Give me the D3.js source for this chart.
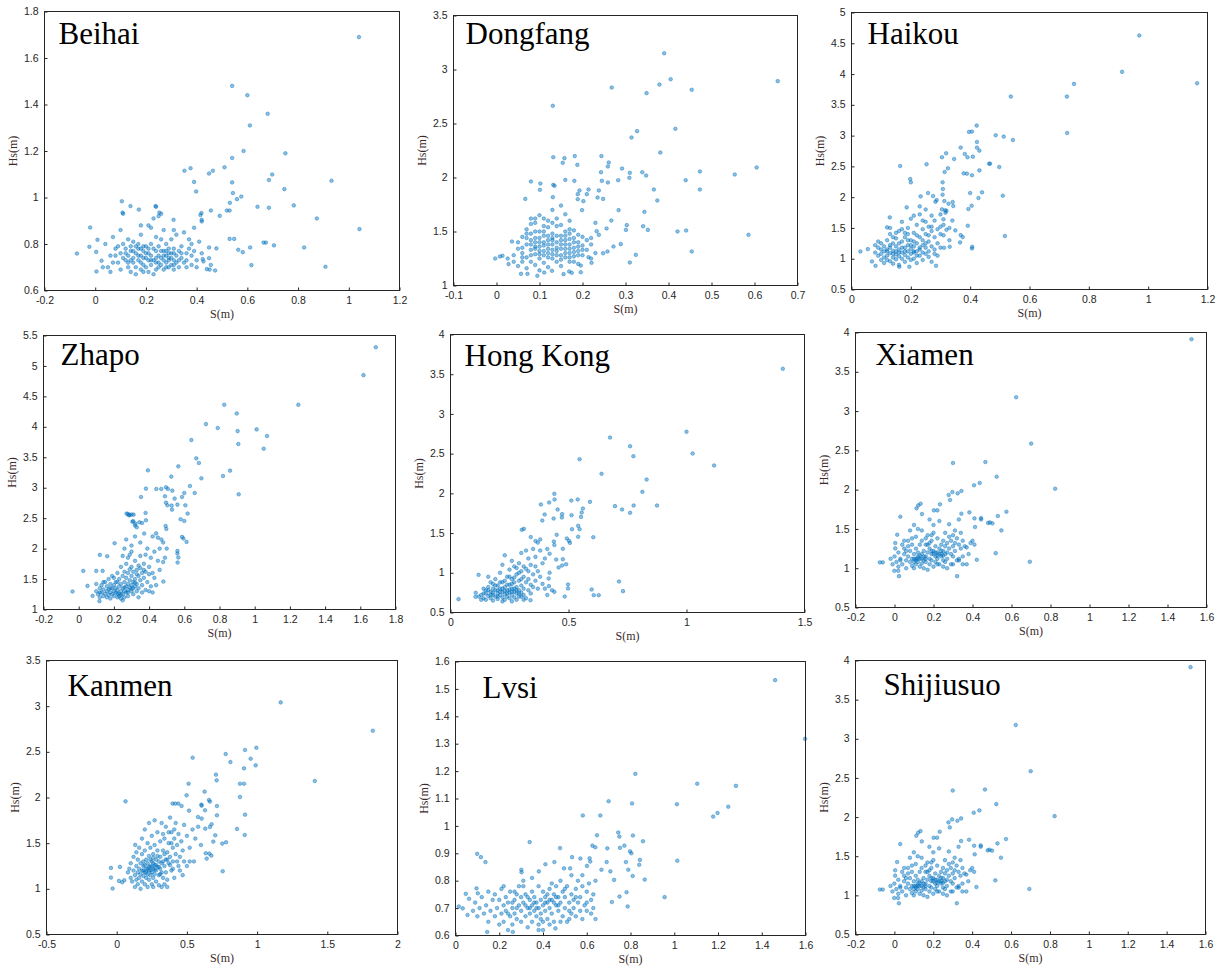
<!DOCTYPE html>
<html>
<head>
<meta charset="utf-8">
<script src="https://cdn.jsdelivr.net/npm/d3@7"></script>
<style>
  body { margin: 0; background: #fff; }
  svg { display: block; }
  .tick text { font-family: "Liberation Sans", Arial, sans-serif; font-size: 10.5px; fill: #262626; }
  .tick line { stroke: #262626; }
</style>
</head>
<body>
<svg id="chart" width="1219" height="968"></svg>
<script>
// ---- data: [S, Hs] pairs ----
const beihai = [
  [1.04,1.69],[0.54,1.48],[0.60,1.44],[0.68,1.36],[0.61,1.31],[0.585,1.20],[0.54,1.17],[0.75,1.19],[0.51,1.13],[0.376,1.126],
  [0.352,1.115],[0.449,1.103],[0.464,1.115],[0.698,1.099],[0.685,1.075],[0.39,1.067],[0.54,1.065],[0.932,1.072],[0.398,1.026],[0.746,1.036],
  [0.543,1.019],[0.576,1.004],[0.559,0.993],[0.531,0.977],[0.105,0.984],[0.64,0.96],[0.685,0.956],[0.783,0.966],[0.139,0.963],[0.238,0.963],
  [0.172,0.948],[0.456,0.944],[0.108,0.935],[0.519,0.944],[0.53,0.944],[0.415,0.925],[0.419,0.933],[0.253,0.935],[0.491,0.921],[0.874,0.91],
  [-0.02,0.871],[1.042,0.864],[0.42,0.897],[0.42,0.904],[0.309,0.904],[0.53,0.822],[0.548,0.822],[0.664,0.806],[0.673,0.806],[0.705,0.794],
  [0.824,0.785],[0.611,0.785],[0.564,0.775],[0.582,0.765],[0.616,0.709],[0.908,0.702],[0.478,0.781],[0.449,0.785],[0.449,0.739],[0.456,0.71],
  [0.44,0.692],[0.451,0.69],[0.473,0.686],[0.424,0.735],[0.427,0.725],[-0.072,0.759],[-0.023,0.788],[0.009,0.818],[0.004,0.766],[0.005,0.682],
  [0.025,0.728],
  [0.04,0.80],[0.05,0.70],[0.06,0.75],[0.07,0.83],[0.07,0.72],[0.08,0.78],[0.09,0.72],[0.10,0.86],[0.10,0.76],[0.10,0.69],
  [0.11,0.74],[0.11,0.80],[0.12,0.73],[0.12,0.78],[0.13,0.70],[0.13,0.75],[0.13,0.82],[0.14,0.68],[0.14,0.77],[0.14,0.79],
  [0.15,0.72],[0.15,0.74],[0.15,0.81],[0.16,0.67],[0.16,0.76],[0.16,0.70],[0.17,0.73],[0.17,0.78],[0.17,0.80],[0.18,0.69],
  [0.18,0.75],[0.18,0.84],[0.18,0.72],[0.19,0.77],[0.19,0.71],[0.19,0.79],[0.20,0.74],[0.20,0.70],[0.20,0.76],[0.21,0.68],
  [0.21,0.78],[0.21,0.73],[0.22,0.87],[0.22,0.75],[0.22,0.80],[0.22,0.71],[0.23,0.73],[0.23,0.91],[0.23,0.67],[0.24,0.77],
  [0.24,0.72],[0.24,0.83],[0.25,0.75],[0.25,0.70],[0.25,0.79],[0.26,0.74],[0.26,0.82],[0.26,0.71],[0.27,0.77],[0.27,0.69],
  [0.27,0.73],[0.28,0.80],[0.28,0.75],[0.28,0.72],[0.29,0.78],[0.29,0.70],[0.29,0.74],[0.30,0.76],[0.30,0.71],[0.30,0.82],
  [0.31,0.73],[0.31,0.78],[0.31,0.69],[0.32,0.75],[0.32,0.84],[0.32,0.72],[0.33,0.77],[0.33,0.70],[0.34,0.74],[0.34,0.79],
  [0.35,0.72],[0.35,0.85],[0.36,0.76],[0.36,0.73],[0.37,0.78],[0.37,0.82],[0.38,0.71],[0.38,0.75],[0.39,0.77],[0.39,0.87],
  [0.40,0.73],[0.40,0.70],[0.41,0.81],[0.42,0.76],[0.12,0.76],[0.14,0.73],[0.16,0.79],[0.19,0.74],[0.21,0.76],[0.23,0.78],
  [0.24,0.74],[0.26,0.77],[0.27,0.75],[0.28,0.77],[0.29,0.73],[0.30,0.74],[0.31,0.76],[0.33,0.73],[0.09,0.79],[0.06,0.68],
  [0.03,0.70],[0.08,0.75],[0.15,0.77],[0.17,0.75],[0.20,0.79],[0.22,0.73],[0.25,0.72],[0.28,0.70],[0.31,0.71],[0.34,0.76],
  [0.36,0.70],[0.38,0.80],[0.24,0.69],[0.19,0.68],[0.13,0.72],[0.18,0.78],[0.29,0.76],[0.26,0.93],[0.25,0.92],[0.27,0.86],
  [0.31,0.86],[0.24,0.96],[0.21,0.88],[0.18,0.88],[0.11,0.93]
];

const dongfang = [
  [0.39,3.15],[0.405,2.91],[0.379,2.861],[0.454,2.812],[0.268,2.833],[0.349,2.781],[0.654,2.892],[0.131,2.664],[0.416,2.451],[0.327,2.429],
  [0.314,2.37],[0.381,2.231],[0.132,2.188],[0.158,2.179],[0.182,2.198],[0.244,2.198],[0.154,2.136],[0.261,2.139],[0.259,2.102],[0.188,2.117],
  [0.292,2.083],[0.605,2.093],[0.473,2.056],[0.243,2.049],[0.31,2.043],[0.339,2.049],[0.348,2.018],[0.554,2.028],[0.44,1.975],[0.309,1.997],
  [0.08,1.963],[0.102,1.944],[0.132,1.932],[0.135,1.923],[0.16,1.978],[0.181,1.969],[0.245,1.969],[0.283,1.975],[0.259,1.954],[0.101,1.886],
  [0.193,1.88],[0.214,1.889],[0.238,1.88],[0.366,1.889],[0.473,1.889],[0.189,1.846],[0.21,1.846],[0.067,1.802],[0.131,1.818],[0.189,1.799],
  [0.235,1.815],[0.248,1.802],[0.374,1.787],[0.202,1.781],[0.199,1.698],[0.284,1.698],[0.344,1.682],[0.267,1.602],[0.303,1.559],[0.301,1.515],
  [0.341,1.549],[0.352,1.515],[0.421,1.50],[0.441,1.509],[0.256,1.528],[0.233,1.503],[0.586,1.469],[0.238,1.469],[0.289,1.383],[0.272,1.361],
  [0.258,1.315],[0.248,1.299],[0.454,1.315],[0.324,1.284],[0.31,1.213],[0.221,1.21],[0.214,1.262],[0.196,1.185],[0.196,1.123],[-0.003,1.25],
  [0.008,1.269],[0.014,1.275],[0.026,1.25],[0.028,1.198],[0.036,1.407],[0.095,1.09],[0.057,1.108],[0.072,1.108],[0.156,1.105],[0.169,1.13],
  [0.175,1.117],[0.111,1.12],[0.129,1.136],
  [0.04,1.28],[0.05,1.34],[0.05,1.18],[0.06,1.45],[0.06,1.30],[0.06,1.22],[0.07,1.38],[0.07,1.52],[0.07,1.26],[0.07,1.16],
  [0.08,1.42],[0.08,1.33],[0.08,1.48],[0.08,1.22],[0.08,1.57],[0.09,1.36],[0.09,1.29],[0.09,1.44],[0.09,1.62],[0.09,1.19],
  [0.10,1.40],[0.10,1.32],[0.10,1.25],[0.10,1.50],[0.10,1.65],[0.10,1.14],[0.11,1.37],[0.11,1.28],[0.11,1.46],[0.11,1.55],
  [0.11,1.21],[0.12,1.34],[0.12,1.42],[0.12,1.30],[0.12,1.60],[0.12,1.17],[0.13,1.38],[0.13,1.25],[0.13,1.48],[0.13,1.70],
  [0.13,1.44],[0.14,1.32],[0.14,1.40],[0.14,1.22],[0.14,1.55],[0.14,1.35],[0.15,1.28],[0.15,1.46],[0.15,1.38],[0.15,1.74],
  [0.15,1.18],[0.16,1.34],[0.16,1.50],[0.16,1.26],[0.16,1.42],[0.16,1.66],[0.17,1.30],[0.17,1.38],[0.17,1.22],[0.17,1.48],
  [0.17,1.60],[0.18,1.35],[0.18,1.44],[0.18,1.27],[0.18,1.51],[0.19,1.40],[0.19,1.32],[0.19,1.20],[0.20,1.45],[0.20,1.37],
  [0.20,1.28],[0.21,1.42],[0.21,1.33],[0.22,1.44],[0.22,1.38],[0.23,1.30],[0.23,1.58],[0.06,1.35],[0.07,1.44],[0.08,1.28],
  [0.09,1.50],[0.09,1.40],[0.10,1.36],[0.10,1.44],[0.11,1.32],[0.11,1.40],[0.12,1.38],[0.12,1.26],[0.13,1.33],[0.13,1.42],
  [0.14,1.28],[0.14,1.46],[0.15,1.34],[0.15,1.42],[0.16,1.30],[0.16,1.38],[0.17,1.43],[0.17,1.34],[0.18,1.40],[0.18,1.31],
  [0.19,1.36],[0.19,1.47],[0.05,1.40],[0.04,1.22],[0.06,1.26],[0.08,1.38],[0.09,1.34],[0.10,1.29],[0.11,1.50],[0.12,1.46],
  [0.13,1.29],[0.14,1.62],[0.15,1.24],[0.16,1.46],[0.17,1.26],[0.18,1.22],[0.19,1.28],[0.20,1.33],[0.22,1.25],[0.11,1.62],
  [0.12,1.54],[0.08,1.62],[0.09,1.58],[0.07,1.48],[0.13,1.58],[0.15,1.56],[0.17,1.52]
];

const haikou = [
  [0.97,4.627],[0.912,4.036],[0.75,3.84],[1.165,3.851],[0.537,3.634],[0.726,3.634],[0.727,3.043],[0.422,3.163],[0.406,3.065],[0.396,3.06],
  [0.486,3.005],[0.513,2.984],[0.544,2.929],[0.423,2.897],[0.423,2.805],[0.431,2.756],[0.368,2.805],[0.319,2.713],[0.305,2.648],[0.382,2.702],
  [0.391,2.648],[0.409,2.658],[0.346,2.62],[0.467,2.544],[0.464,2.544],[0.498,2.49],[0.253,2.534],[0.164,2.506],[0.431,2.435],[0.314,2.409],
  [0.325,2.469],[0.378,2.387],[0.389,2.382],[0.406,2.355],[0.198,2.295],[0.20,2.241],[0.307,2.241],[0.308,2.132],[0.40,2.067],[0.44,2.078],
  [0.258,2.067],[0.275,2.018],[0.233,2.013],[0.51,2.024],[0.428,1.986],[0.307,2.04],[0.287,1.953],[0.283,1.926],[0.313,1.937],[0.341,1.921],
  [0.327,1.894],[0.343,1.856],[0.405,1.861],[0.186,1.834],[0.394,1.807],[0.305,1.802],[0.316,1.785],[0.317,1.747],[0.392,1.536],[0.517,1.368],
  [0.368,1.384],[0.375,1.351],[0.366,1.265],[0.407,1.194],[0.406,1.167],[0.331,1.194],[0.312,1.178],[0.03,1.118],[0.055,1.156],[0.129,1.671],
  [0.12,1.509],[0.069,0.956],[0.081,0.885],[0.161,0.869],[0.195,0.869],[0.285,0.885],
  [0.08,1.10],[0.08,1.22],[0.09,1.05],[0.09,1.28],[0.10,0.98],[0.10,1.15],[0.10,1.08],[0.11,1.20],[0.11,1.02],[0.11,0.93],
  [0.12,1.12],[0.12,1.30],[0.12,1.05],[0.13,0.96],[0.13,1.18],[0.13,1.09],[0.13,1.40],[0.14,1.02],[0.14,1.25],[0.14,1.13],
  [0.14,0.92],[0.15,1.07],[0.15,1.33],[0.15,1.20],[0.15,0.99],[0.16,1.15],[0.16,1.04],[0.16,1.45],[0.16,0.90],[0.17,1.10],
  [0.17,1.28],[0.17,1.00],[0.17,1.60],[0.18,1.18],[0.18,1.06],[0.18,1.35],[0.18,0.95],[0.19,1.12],[0.19,1.22],[0.19,1.02],
  [0.19,1.50],[0.20,1.16],[0.20,1.08],[0.20,1.30],[0.20,1.65],[0.21,1.20],[0.21,1.00],[0.21,1.42],[0.21,1.12],[0.22,1.25],
  [0.22,1.05],[0.22,1.55],[0.22,0.93],[0.23,1.15],[0.23,1.35],[0.23,1.72],[0.24,1.10],[0.24,1.22],[0.24,1.48],[0.24,0.98],
  [0.25,1.18],[0.25,1.40],[0.25,1.60],[0.26,1.12],[0.26,1.28],[0.26,1.03],[0.27,1.20],[0.27,1.45],[0.27,1.52],[0.28,1.15],
  [0.28,1.35],[0.28,1.08],[0.29,1.48],[0.29,1.25],[0.30,1.40],[0.30,1.18],[0.31,1.55],[0.31,1.64],[0.32,1.47],[0.33,1.50],
  [0.34,1.62],[0.35,1.46],[0.12,1.15],[0.13,1.22],[0.14,1.08],[0.15,1.12],[0.16,1.25],[0.17,1.18],[0.18,1.12],[0.19,1.30],
  [0.20,1.22],[0.21,1.28],[0.22,1.12],[0.23,1.05],[0.24,1.30],[0.25,1.08],[0.26,1.38],[0.11,1.12],[0.10,1.25],[0.09,1.18],
  [0.12,0.98],[0.14,1.35],[0.16,1.10],[0.18,1.42],[0.20,0.98],[0.22,1.38],[0.24,1.62],[0.26,1.52],[0.28,1.62],[0.30,1.72],
  [0.32,1.78],[0.23,1.85],[0.25,1.80],[0.21,1.70],[0.27,1.70],[0.30,1.52],[0.33,1.30],[0.31,1.38],[0.29,1.05],[0.27,0.95],
  [0.13,1.50],[0.15,1.42],[0.19,1.40],[0.17,1.48],[0.23,1.18],[0.21,1.10],[0.25,1.25]
];

const zhapo = [
  [1.688,5.308],[1.618,4.849],[1.248,4.362],[0.827,4.362],[0.898,4.22],[0.723,4.045],[0.79,3.98],[0.903,3.93],[1.011,3.958],[1.07,3.849],
  [0.64,3.783],[0.907,3.717],[1.051,3.641],[0.668,3.482],[0.683,3.406],[0.566,3.351],[0.393,3.285],[0.86,3.28],[0.82,3.192],[0.526,3.182],
  [0.697,3.154],[0.909,2.892],[0.632,3.028],[0.496,3.007],[0.507,2.98],[0.441,2.98],[0.469,2.98],[0.382,2.985],[0.532,2.952],[0.60,2.914],
  [0.659,2.914],[0.49,2.859],[0.545,2.821],[0.587,2.848],[0.354,2.848],[0.496,2.755],[0.504,2.711],[0.528,2.706],[0.561,2.722],[0.53,2.64],
  [0.606,2.711],[0.619,2.575],[0.579,2.482],[0.60,2.454],[0.382,2.465],[0.38,2.586],[0.272,2.575],[0.285,2.548],[0.312,2.558],[0.305,2.443],
  [0.322,2.41],[0.345,2.432],[0.494,2.372],[0.498,2.323],[0.587,2.192],[0.595,2.165],[0.613,2.11],[0.561,1.962],[0.561,1.919],[0.566,1.853],
  [0.562,1.771],[0.481,1.459],[0.204,2.088],[0.12,1.897],[0.162,1.875],[0.372,2.247],[-0.035,1.295],[0.026,1.634],[0.10,1.634],[0.136,1.634],
  [0.05,1.388],[0.079,1.224],[0.118,1.137],
  [0.10,1.30],[0.10,1.42],[0.11,1.25],[0.12,1.35],[0.12,1.20],[0.13,1.28],[0.13,1.40],[0.14,1.22],[0.14,1.33],[0.15,1.26],
  [0.15,1.45],[0.16,1.30],[0.16,1.20],[0.16,1.38],[0.17,1.24],[0.17,1.50],[0.17,1.33],[0.18,1.28],[0.18,1.42],[0.18,1.18],
  [0.19,1.35],[0.19,1.25],[0.19,1.55],[0.20,1.30],[0.20,1.40],[0.20,1.22],[0.21,1.28],[0.21,1.45],[0.21,1.35],[0.22,1.20],
  [0.22,1.32],[0.22,1.60],[0.23,1.26],[0.23,1.38],[0.23,1.50],[0.24,1.30],[0.24,1.18],[0.24,1.42],[0.24,1.70],[0.25,1.35],
  [0.25,1.25],[0.25,1.55],[0.26,1.30],[0.26,1.45],[0.26,1.62],[0.26,1.20],[0.27,1.38],[0.27,1.28],[0.27,1.52],[0.27,1.75],
  [0.28,1.32],[0.28,1.60],[0.28,1.42],[0.28,1.22],[0.29,1.36],[0.29,1.66],[0.29,1.48],[0.29,1.90],[0.30,1.30],[0.30,1.55],
  [0.30,1.40],[0.30,1.70],[0.30,2.05],[0.31,1.35],[0.31,1.62],[0.31,1.45],[0.31,1.25],[0.32,1.50],[0.32,1.38],[0.32,1.80],
  [0.32,2.20],[0.33,1.42],[0.33,1.65],[0.33,1.30],[0.34,1.55],[0.34,1.72],[0.34,1.35],[0.35,1.48],[0.35,1.88],[0.35,2.10],
  [0.36,1.60],[0.36,1.40],[0.37,1.75],[0.37,1.52],[0.38,1.90],[0.38,1.62],[0.39,1.45],[0.39,2.00],[0.40,1.70],[0.40,1.58],
  [0.41,1.38],[0.41,1.85],[0.42,2.20],[0.42,1.60],[0.43,1.95],[0.43,1.52],[0.44,2.25],[0.44,1.40],[0.45,1.80],[0.46,2.00],
  [0.46,1.65],[0.47,2.15],[0.48,2.10],[0.49,1.85],[0.50,2.00],[0.48,1.78],[0.45,2.18],[0.30,1.95],[0.28,1.85],[0.26,2.00],
  [0.25,1.88],[0.27,2.15],[0.29,2.55],[0.31,2.45],[0.32,2.38],[0.33,2.35],[0.36,2.42],[0.30,2.56],[0.28,2.57],[0.22,1.45],
  [0.20,1.52],[0.18,1.35],[0.14,1.45],[0.12,1.28],[0.23,1.22],[0.25,1.15],[0.34,1.20],[0.36,1.28],[0.38,1.32],[0.40,1.30],
  [0.42,1.28],[0.37,1.65],[0.33,1.58],[0.35,1.68],[0.26,1.36],[0.28,1.28],[0.30,1.34],[0.22,1.26],[0.24,1.24],[0.32,1.44]
];

const hongkong = [
  [1.408,3.568],[1.0,2.775],[1.026,2.502],[1.117,2.351],[0.676,2.703],[0.761,2.594],[0.775,2.468],[0.547,2.43],[0.64,2.246],[0.831,2.174],
  [0.813,2.019],[0.875,1.847],[0.776,1.847],[0.697,1.839],[0.727,1.797],[0.761,1.755],[0.591,1.893],[0.605,1.448],[0.714,0.89],[0.731,0.769],
  [0.598,0.79],[0.607,0.718],[0.628,0.718],[0.44,1.994],[0.441,1.923],[0.418,1.885],[0.383,1.86],[0.399,1.734],[0.389,1.658],[0.512,1.91],
  [0.539,1.923],[0.437,1.683],[0.454,1.797],[0.473,1.738],[0.472,1.696],[0.513,1.725],[0.556,1.759],[0.561,1.809],[0.553,1.704],[0.541,1.591],
  [0.547,1.549],[0.515,1.549],[0.311,1.553],[0.302,1.541],[0.541,1.453],[0.45,1.478],[0.493,1.432],[0.502,1.402],[0.506,1.377],[0.438,1.394],
  [0.476,1.302],[0.49,1.108],[0.458,1.067],[0.448,1.167],[0.476,1.171],[0.473,1.092],[0.498,0.853],[0.498,0.802],[0.484,0.701],[0.034,0.668],
  [0.119,0.974],[0.107,0.748],[0.106,0.697],[0.339,0.655],[0.416,0.928],[0.417,0.832],
  [0.12,0.70],[0.13,0.72],[0.14,0.68],[0.14,0.80],[0.15,0.74],[0.15,0.66],[0.16,0.82],[0.16,0.71],[0.16,0.95],[0.17,0.76],
  [0.17,0.68],[0.17,0.88],[0.18,0.72],[0.18,0.80],[0.18,0.65],[0.19,0.78],[0.19,0.70],[0.19,0.92],[0.20,0.74],[0.20,0.84],
  [0.20,0.67],[0.21,0.80],[0.21,0.72],[0.21,1.00],[0.22,0.76],[0.22,0.69],[0.22,0.88],[0.22,1.10],[0.23,0.73],[0.23,0.82],
  [0.23,0.66],[0.23,1.22],[0.24,0.78],[0.24,0.70],[0.24,0.95],[0.25,0.75],[0.25,0.85],[0.25,0.68],[0.25,1.04],[0.26,0.72],
  [0.26,0.80],[0.26,0.92],[0.26,1.15],[0.27,0.76],[0.27,0.69],[0.27,0.88],[0.27,1.08],[0.28,0.74],[0.28,0.82],[0.28,0.98],
  [0.28,0.66],[0.29,0.78],[0.29,0.90],[0.29,1.12],[0.29,0.70],[0.30,0.84],[0.30,0.75],[0.30,1.02],[0.30,1.25],[0.31,0.80],
  [0.31,0.95],[0.31,0.72],[0.32,0.88],[0.32,1.05],[0.32,1.28],[0.33,0.78],[0.33,0.92],[0.33,1.18],[0.34,0.85],[0.34,1.10],
  [0.34,0.74],[0.35,0.98],[0.35,1.30],[0.35,0.82],[0.36,0.90],[0.36,1.20],[0.37,1.02],[0.37,0.80],[0.38,1.28],[0.38,0.95],
  [0.38,1.42],[0.39,0.86],[0.39,1.12],[0.40,0.80],[0.40,1.18],[0.41,1.30],[0.41,0.72],[0.42,1.00],[0.42,1.24],[0.43,0.78],
  [0.44,1.35],[0.44,0.76],[0.20,0.78],[0.21,0.76],[0.22,0.80],[0.23,0.77],[0.24,0.74],[0.25,0.79],[0.26,0.76],[0.27,0.80],
  [0.28,0.78],[0.29,0.74],[0.30,0.70],[0.24,0.85],[0.26,0.86],[0.19,0.84],[0.18,0.75],[0.17,0.72],[0.15,0.78],[0.14,0.74],
  [0.13,0.66],[0.21,0.88],[0.23,0.90],[0.27,0.94],[0.29,1.00],[0.31,1.08],[0.33,1.02],[0.36,1.08],[0.37,1.38],[0.34,1.45],
  [0.36,1.40],[0.32,0.68],[0.31,0.66],[0.26,0.64],[0.22,0.64],[0.20,0.70],[0.18,0.86],[0.16,0.78],[0.25,0.95],[0.28,1.06],
  [0.30,0.92]
];

const xiamen = [
  [1.523,3.915],[0.624,3.176],[0.701,2.586],[0.30,2.339],[0.466,2.352],[0.524,2.165],[0.824,2.012],[0.408,2.055],[0.437,2.085],[0.297,1.97],
  [0.343,1.983],[0.278,1.932],[0.324,1.953],[0.285,1.868],[0.233,1.813],[0.134,1.821],[0.122,1.80],[0.113,1.762],[0.141,1.689],[0.202,1.736],
  [0.22,1.736],[0.03,1.655],[0.53,1.664],[0.574,1.719],[0.384,1.711],[0.343,1.694],[0.444,1.638],[0.444,1.621],[0.41,1.634],[0.489,1.583],
  [0.502,1.571],[0.548,1.481],[0.413,1.524],[0.48,1.575],[0.519,1.192],[0.694,1.082],[0.321,0.899],[0.023,0.899],[0.014,1.426],[-0.075,1.074],
  [-0.06,1.074],[0.004,1.32],[0.004,1.252],[-0.001,0.967],[0.019,0.967],[0.422,1.107],[0.37,1.265],[0.331,1.099],
  [-0.02,1.12],[-0.01,1.05],[0.00,1.15],[0.01,1.08],[0.02,1.20],[0.02,1.02],[0.03,1.12],[0.04,1.30],[0.04,1.05],[0.05,1.18],
  [0.05,1.25],[0.06,1.10],[0.06,1.00],[0.07,1.15],[0.07,1.35],[0.08,1.08],[0.08,1.22],[0.08,1.48],[0.09,1.12],[0.09,1.03],
  [0.09,1.30],[0.10,1.18],[0.10,1.08],[0.10,1.55],[0.10,1.00],[0.11,1.25],[0.11,1.12],[0.11,1.05],[0.11,1.40],[0.12,1.15],
  [0.12,1.08],[0.12,1.20],[0.13,1.02],[0.13,1.12],[0.13,1.30],[0.14,1.18],[0.14,1.06],[0.14,1.35],[0.15,1.10],[0.15,1.22],
  [0.15,1.00],[0.16,1.15],[0.16,1.30],[0.16,1.08],[0.17,1.42],[0.17,1.20],[0.17,0.98],[0.18,1.12],[0.18,1.25],[0.18,1.05],
  [0.18,1.62],[0.19,1.18],[0.19,1.35],[0.19,1.10],[0.20,1.22],[0.20,1.02],[0.20,1.45],[0.20,1.55],[0.21,1.15],[0.21,1.28],
  [0.21,1.08],[0.22,1.20],[0.22,1.38],[0.22,1.12],[0.23,1.25],[0.23,1.05],[0.23,1.60],[0.24,1.18],[0.24,1.30],[0.24,1.15],
  [0.25,1.10],[0.25,1.35],[0.25,1.22],[0.26,1.28],[0.26,1.08],[0.26,1.45],[0.27,1.20],[0.27,1.32],[0.27,1.12],[0.28,1.40],
  [0.28,1.25],[0.28,1.56],[0.29,1.18],[0.29,1.35],[0.29,1.05],[0.30,1.28],[0.30,1.42],[0.30,1.15],[0.31,1.32],[0.31,1.22],
  [0.31,1.48],[0.32,1.38],[0.32,1.10],[0.33,1.30],[0.33,1.62],[0.34,1.25],[0.34,1.45],[0.35,1.35],[0.35,1.15],[0.36,1.28],
  [0.37,1.05],[0.38,1.18],[0.39,1.32],[0.40,1.35],[0.41,1.30],[0.12,1.12],[0.13,1.16],[0.14,1.12],[0.15,1.15],[0.16,1.12],
  [0.19,1.22],[0.20,1.18],[0.21,1.20],[0.22,1.16],[0.23,1.18],[0.24,1.22],[0.25,1.16],[0.26,1.18],[0.10,1.12],[0.11,1.10],
  [0.17,1.30],[0.18,1.32],[0.05,1.35],[0.09,1.38],[0.12,1.50],[0.14,1.48],[0.07,1.28],[0.06,1.22],[0.03,1.10],[0.16,1.38],
  [0.19,1.42],[0.22,1.05],[0.25,1.02],[0.27,1.00],[0.30,1.05],[0.33,1.12],[0.35,1.05]
];

const kanmen = [
  [1.168,3.041],[1.824,2.731],[1.411,2.181],[0.995,2.545],[0.914,2.52],[0.776,2.476],[0.954,2.425],[0.541,2.436],[0.81,2.388],[0.99,2.352],
  [0.907,2.319],[0.707,2.25],[0.712,2.188],[0.512,2.151],[0.878,2.151],[0.907,2.151],[0.626,2.064],[0.498,2.024],[0.878,2.006],[0.063,1.958],
  [0.603,1.922],[0.664,1.955],[0.657,1.973],[0.398,1.933],[0.417,1.933],[0.439,1.933],[0.462,1.907],[0.605,1.911],[0.714,1.907],[0.629,1.86],
  [0.914,1.812],[0.714,1.805],[0.515,1.856],[0.579,1.787],[0.605,1.769],[0.664,1.678],[0.857,1.656],[0.631,1.659],[0.676,1.707],[0.912,1.59],
  [0.702,1.586],[0.779,1.51],[0.752,1.495],[0.688,1.517],[0.634,1.39],[0.66,1.386],[0.674,1.364],[0.641,1.331],[0.755,1.193],[-0.041,1.229],
  [-0.041,1.123],[-0.029,1.003],[0.023,1.24],[0.016,1.087],[0.039,1.072],[0.054,1.094],[0.132,1.481],
  [0.08,1.18],[0.09,1.22],[0.10,1.12],[0.10,1.28],[0.11,1.08],[0.12,1.20],[0.12,1.35],[0.13,1.15],[0.13,1.02],[0.14,1.25],
  [0.14,1.10],[0.14,1.40],[0.15,1.18],[0.15,1.05],[0.15,1.32],[0.16,1.22],[0.16,1.12],[0.16,1.45],[0.17,1.00],[0.17,1.28],
  [0.17,1.16],[0.18,1.20],[0.18,1.08],[0.18,1.38],[0.18,1.55],[0.19,1.14],[0.19,1.25],[0.19,1.30],[0.20,1.18],[0.20,1.05],
  [0.20,1.42],[0.20,1.65],[0.21,1.22],[0.21,1.12],[0.21,1.32],[0.22,1.16],[0.22,1.28],[0.22,1.02],[0.22,1.50],[0.23,1.20],
  [0.23,1.10],[0.23,1.36],[0.23,1.72],[0.24,1.25],[0.24,1.15],[0.24,1.45],[0.25,1.18],[0.25,1.30],[0.25,1.05],[0.25,1.58],
  [0.26,1.22],[0.26,1.12],[0.26,1.38],[0.27,1.26],[0.27,1.16],[0.27,1.48],[0.27,1.75],[0.28,1.20],[0.28,1.32],[0.28,1.08],
  [0.29,1.24],[0.29,1.42],[0.29,1.62],[0.30,1.15],[0.30,1.30],[0.30,1.04],[0.31,1.22],[0.31,1.52],[0.31,1.35],[0.32,1.18],
  [0.32,1.28],[0.32,1.72],[0.33,1.12],[0.33,1.42],[0.33,1.60],[0.34,1.25],[0.34,1.05],[0.34,1.55],[0.35,1.32],[0.35,1.18],
  [0.35,1.68],[0.36,1.40],[0.36,1.10],[0.37,1.28],[0.37,1.50],[0.38,1.35],[0.38,1.78],[0.39,1.20],[0.39,1.62],[0.40,1.45],
  [0.40,1.30],[0.41,1.55],[0.41,1.12],[0.42,1.38],[0.42,1.72],[0.43,1.48],[0.44,1.25],[0.44,1.60],[0.45,1.35],[0.46,1.52],
  [0.47,1.42],[0.48,1.70],[0.48,1.30],[0.50,1.58],[0.50,1.25],[0.52,1.45],[0.52,1.30],[0.54,1.65],[0.55,1.30],[0.56,1.55],
  [0.58,1.68],[0.60,1.48],[0.22,1.22],[0.23,1.24],[0.24,1.20],[0.25,1.24],[0.26,1.28],[0.21,1.18],[0.20,1.26],[0.19,1.20],
  [0.27,1.21],[0.28,1.26],[0.24,1.32],[0.26,1.34],[0.30,1.24],[0.31,1.16],[0.33,1.30],[0.36,1.32],[0.38,1.26],[0.40,1.22],
  [0.43,1.30],[0.45,1.20],[0.47,1.15],[0.36,1.02],[0.32,1.02],[0.26,1.02],[0.29,1.36],[0.34,1.38],[0.37,1.62],[0.41,1.65],
  [0.39,1.50]
];

const lvsi = [
  [1.461,1.532],[1.598,1.318],[0.822,1.19],[1.105,1.154],[1.282,1.146],[0.70,1.09],[0.807,1.082],[1.012,1.079],[1.247,1.07],[1.198,1.047],
  [1.178,1.034],[0.582,1.038],[0.662,1.038],[1.014,0.873],[0.956,0.74],[0.787,0.706],[0.865,0.804],[0.843,0.876],[0.857,0.944],[0.811,0.965],
  [0.744,0.976],[0.749,0.961],[0.772,0.928],[0.752,0.92],[0.798,0.907],[0.804,0.90],[0.779,0.868],[0.84,0.858],[0.79,0.84],[0.81,0.817],
  [0.782,0.758],[0.75,0.742],[0.715,0.722],[0.647,0.966],[0.626,0.928],[0.639,0.922],[0.694,0.918],[0.691,0.868],[0.708,0.834],[0.725,0.803],
  [0.667,0.84],[0.339,0.941],[0.478,0.919],[0.533,0.886],[0.571,0.881],[0.613,0.882],[0.616,0.87],[0.601,0.854],[0.099,0.898],[0.116,0.886],
  [0.137,0.868],[0.411,0.86],[0.452,0.868],[0.301,0.84],[0.302,0.831],[0.381,0.834],[0.496,0.845],[0.524,0.845],[0.015,0.706],[0.047,0.752],
  [0.062,0.734],[0.033,0.699],[0.055,0.675],[0.145,0.613],[0.262,0.613],[0.457,0.626],[0.102,0.754],[0.096,0.772],
  [0.08,0.69],[0.09,0.72],[0.10,0.67],[0.11,0.70],[0.12,0.74],[0.13,0.68],[0.14,0.71],[0.15,0.65],[0.15,0.76],[0.16,0.69],
  [0.17,0.73],[0.18,0.67],[0.18,0.75],[0.19,0.70],[0.20,0.64],[0.20,0.73],[0.21,0.77],[0.21,0.68],[0.22,0.71],[0.22,0.65],
  [0.23,0.74],[0.23,0.69],[0.24,0.62],[0.24,0.72],[0.25,0.67],[0.25,0.76],[0.26,0.70],[0.26,0.64],[0.27,0.73],[0.27,0.68],
  [0.28,0.75],[0.28,0.66],[0.29,0.71],[0.29,0.78],[0.30,0.69],[0.30,0.74],[0.30,0.65],[0.31,0.72],[0.31,0.80],[0.32,0.67],
  [0.32,0.75],[0.33,0.70],[0.33,0.63],[0.34,0.73],[0.34,0.68],[0.35,0.76],[0.35,0.71],[0.35,0.65],[0.36,0.69],[0.36,0.74],
  [0.37,0.72],[0.37,0.67],[0.38,0.70],[0.38,0.78],[0.38,0.64],[0.39,0.73],[0.39,0.68],[0.40,0.71],[0.40,0.62],[0.40,0.76],
  [0.41,0.69],[0.41,0.74],[0.42,0.66],[0.42,0.72],[0.43,0.77],[0.43,0.70],[0.44,0.73],[0.44,0.68],[0.45,0.75],[0.45,0.65],
  [0.46,0.71],[0.46,0.78],[0.47,0.69],[0.47,0.74],[0.48,0.72],[0.48,0.80],[0.49,0.67],[0.49,0.76],[0.50,0.70],[0.50,0.74],
  [0.51,0.65],[0.51,0.78],[0.52,0.72],[0.52,0.69],[0.53,0.75],[0.53,0.82],[0.54,0.70],[0.54,0.73],[0.55,0.67],[0.55,0.77],
  [0.56,0.72],[0.56,0.80],[0.57,0.69],[0.57,0.74],[0.58,0.78],[0.58,0.82],[0.59,0.71],[0.60,0.76],[0.60,0.69],[0.61,0.79],
  [0.62,0.73],[0.62,0.68],[0.63,0.75],[0.63,0.70],[0.64,0.66],[0.64,0.80],[0.32,0.71],[0.34,0.70],[0.36,0.72],[0.37,0.70],
  [0.39,0.66],[0.41,0.72],[0.43,0.73],[0.45,0.72],[0.47,0.71],[0.28,0.70],[0.26,0.72],[0.24,0.68],[0.33,0.74],[0.42,0.75],
  [0.46,0.74],[0.50,0.77],[0.55,0.74],[0.53,0.68],[0.22,0.78],[0.27,0.76],[0.31,0.78],[0.35,0.81],[0.44,0.79],[0.48,0.65],
  [0.52,0.66],[0.58,0.66],[0.60,0.72],[0.38,0.62],[0.40,0.65],[0.43,0.64]
];

// the Shijiusuo panel in the source shows the very same scatter as Xiamen
const shijiusuo = xiamen;

// ---- tick labels ----
const ticksBeihaiX = [-0.2, 0, 0.2, 0.4, 0.6, 0.8, 1, 1.2];
const ticksBeihaiY = [0.6, 0.8, 1, 1.2, 1.4, 1.6, 1.8];
const ticksDongfangX = [-0.1, 0, 0.1, 0.2, 0.3, 0.4, 0.5, 0.6, 0.7];
const ticksDongfangY = [1, 1.5, 2, 2.5, 3, 3.5];
const ticksHaikouX = [0, 0.2, 0.4, 0.6, 0.8, 1, 1.2];
const ticksHaikouY = [0.5, 1, 1.5, 2, 2.5, 3, 3.5, 4, 4.5, 5];
const ticksZhapoX = [-0.2, 0, 0.2, 0.4, 0.6, 0.8, 1, 1.2, 1.4, 1.6, 1.8];
const ticksZhapoY = [1, 1.5, 2, 2.5, 3, 3.5, 4, 4.5, 5, 5.5];
const ticksHongKongX = [0, 0.5, 1, 1.5];
const ticksHongKongY = [0.5, 1, 1.5, 2, 2.5, 3, 3.5, 4];
const ticksXiamenX = [-0.2, 0, 0.2, 0.4, 0.6, 0.8, 1, 1.2, 1.4, 1.6];
const ticksXiamenY = [0.5, 1, 1.5, 2, 2.5, 3, 3.5, 4];
const ticksKanmenX = [-0.5, 0, 0.5, 1, 1.5, 2];
const ticksKanmenY = [0.5, 1, 1.5, 2, 2.5, 3, 3.5];
const ticksLvsiX = [0, 0.2, 0.4, 0.6, 0.8, 1, 1.2, 1.4, 1.6];
const ticksLvsiY = [0.6, 0.7, 0.8, 0.9, 1, 1.1, 1.2, 1.3, 1.4, 1.5, 1.6];

// ---- layout: plot box [left, top, right, bottom] and title offset ----
const panels = [
  { name: "Beihai",    pts: beihai,    xt: ticksBeihaiX,   yt: ticksBeihaiY,   box: [44.5, 11.5, 399.5, 290.5], title: [14, 32] },
  { name: "Dongfang",  pts: dongfang,  xt: ticksDongfangX, yt: ticksDongfangY, box: [453.5, 15.5, 797.5, 285.5], title: [12, 28] },
  { name: "Haikou",    pts: haikou,    xt: ticksHaikouX,   yt: ticksHaikouY,   box: [851.5, 12.5, 1207.5, 289.5], title: [16, 31] },
  { name: "Zhapo",     pts: zhapo,     xt: ticksZhapoX,    yt: ticksZhapoY,    box: [43.5, 335.5, 395.5, 609.5], title: [17, 29] },
  { name: "Hong Kong", pts: hongkong,  xt: ticksHongKongX, yt: ticksHongKongY, box: [450.5, 334.5, 804.5, 612.5], title: [14, 31] },
  { name: "Xiamen",    pts: xiamen,    xt: ticksXiamenX,   yt: ticksXiamenY,   box: [855.5, 332.5, 1206.5, 607.5], title: [20, 32] },
  { name: "Kanmen",    pts: kanmen,    xt: ticksKanmenX,   yt: ticksKanmenY,   box: [46.5, 660.5, 397.5, 934.5], title: [21, 35] },
  { name: "Lvsi",      pts: lvsi,      xt: ticksLvsiX,     yt: ticksLvsiY,     box: [455.5, 661.5, 805.5, 935.5], title: [27, 36] },
  { name: "Shijiusuo", pts: shijiusuo, xt: ticksXiamenX,   yt: ticksXiamenY,   box: [855.5, 660.5, 1205.5, 934.5], title: [28, 34] }
];

const svg = d3.select("#chart");
const fmt = d => String(Math.round(d * 100) / 100);

panels.forEach(p => {
  const [x0, y0, x1, y1] = p.box;
  const xs = d3.scaleLinear().domain(d3.extent(p.xt)).range([x0, x1]);
  const ys = d3.scaleLinear().domain(d3.extent(p.yt)).range([y1, y0]);
  const g = svg.append("g");

  // markers first, frame over them
  g.append("g")
    .selectAll("circle")
    .data(p.pts)
    .enter()
    .append("circle")
    .attr("cx", d => xs(d[0]))
    .attr("cy", d => ys(d[1]))
    .attr("r", 1.8)
    .attr("fill", "#0072BD")
    .attr("fill-opacity", 0.45)
    .attr("stroke", "#0072BD")
    .attr("stroke-opacity", 0.6)
    .attr("stroke-width", 0.7);

  g.append("rect")
    .attr("x", x0).attr("y", y0)
    .attr("width", x1 - x0).attr("height", y1 - y0)
    .attr("fill", "none")
    .attr("stroke", "#262626")
    .attr("stroke-width", 1);

  const xa = g.append("g")
    .attr("transform", `translate(0,${y1})`)
    .call(d3.axisBottom(xs).tickValues(p.xt).tickFormat(fmt).tickSizeInner(-3).tickSizeOuter(0).tickPadding(6));
  xa.select(".domain").remove();

  const ya = g.append("g")
    .attr("transform", `translate(${x0},0)`)
    .call(d3.axisLeft(ys).tickValues(p.yt).tickFormat(fmt).tickSizeInner(-3).tickSizeOuter(0).tickPadding(6));
  ya.select(".domain").remove();
  ya.selectAll(".tick text").attr("dy", "0.3em");

  // axis titles
  g.append("text")
    .attr("x", (x0 + x1) / 2)
    .attr("y", y1 + 27)
    .attr("text-anchor", "middle")
    .style("font-family", "'Liberation Serif', 'Times New Roman', serif")
    .style("font-size", "12px")
    .style("fill", "#3b2a2a")
    .text("S(m)");

  g.append("text")
    .attr("transform", `translate(${x0 - 28},${(y0 + y1) / 2}) rotate(-90)`)
    .attr("text-anchor", "middle")
    .style("font-family", "'Liberation Serif', 'Times New Roman', serif")
    .style("font-size", "12px")
    .style("fill", "#3b2a2a")
    .text("Hs(m)");

  // station name inside the box
  g.append("text")
    .attr("x", x0 + p.title[0])
    .attr("y", y0 + p.title[1])
    .style("font-family", "'Liberation Serif', 'Times New Roman', serif")
    .style("font-size", "31px")
    .style("fill", "#000")
    .text(p.name);
});
</script>
</body>
</html>
